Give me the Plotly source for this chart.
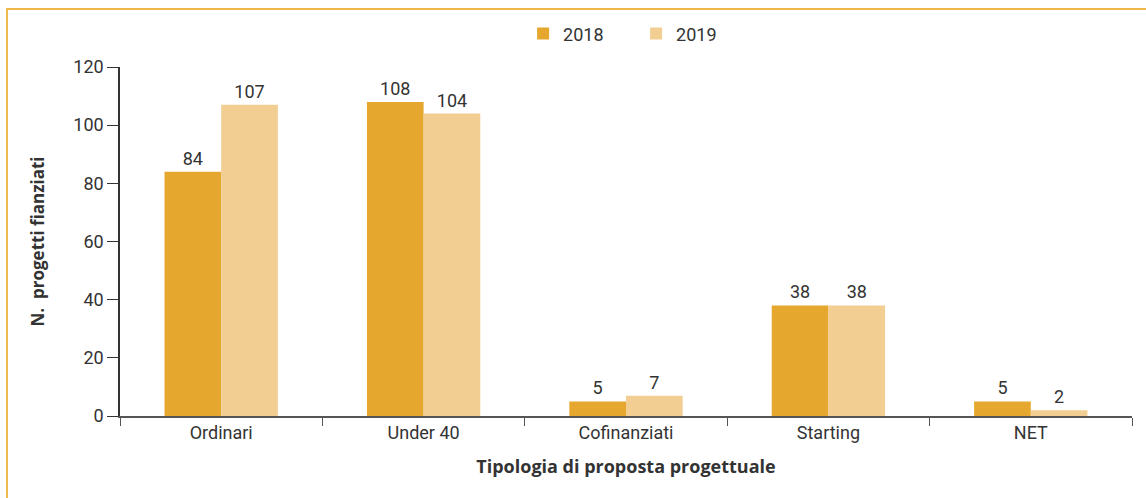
import plotly.graph_objects as go

categories = ["Ordinari", "Under 40", "Cofinanziati", "Starting", "NET"]
values_2018 = [84, 108, 5, 38, 5]
values_2019 = [107, 104, 7, 38, 2]
y_ticks = [0, 20, 40, 60, 80, 100, 120]

FONT = "Roboto, Open Sans, sans-serif"
BOLD_FONT = "Open Sans, sans-serif"
TEXT = "#333333"

fig = go.Figure()
fig.add_trace(go.Bar(
    name="2018", x=categories, y=values_2018,
    marker=dict(color="#E5A72E", line=dict(width=0)),
    text=values_2018, textposition="outside", cliponaxis=False,
    textfont=dict(family=FONT, size=18, color=TEXT),
))
fig.add_trace(go.Bar(
    name="2019", x=categories, y=values_2019,
    marker=dict(color="#F2CE92", line=dict(width=0)),
    text=values_2019, textposition="outside", cliponaxis=False,
    textfont=dict(family=FONT, size=18, color=TEXT),
))

# frame around the chart
fig.add_shape(type="rect", xref="paper", yref="paper",
              x0=-0.1117, x1=1.02, y0=-0.26, y1=1.166,
              line=dict(color="#F0B84B", width=2), layer="below")

fig.update_layout(
    width=1146, height=498,
    margin=dict(l=120, r=14, t=67, b=82),
    paper_bgcolor="white", plot_bgcolor="white",
    barmode="group", bargap=0.44, bargroupgap=0,
    font=dict(family=FONT, size=18, color=TEXT),
    showlegend=True,
    legend=dict(orientation="h", x=0.51, xanchor="center", y=1.095, yanchor="middle",
                font=dict(family=FONT, size=18, color=TEXT),
                entrywidth=68, entrywidthmode="pixels",
                traceorder="normal"),
    xaxis=dict(
        showline=True, linecolor="#555555", linewidth=1.5,
        ticks="outside", tickson="boundaries", ticklen=8, tickcolor="#555555",
        tickfont=dict(family=FONT, size=18, color=TEXT),
        title=dict(text="<b>Tipologia di proposta progettuale</b>",
                   font=dict(family=BOLD_FONT, size=18, color=TEXT),
                   standoff=18),
    ),
    yaxis=dict(
        range=[0, 120], tickvals=y_ticks,
        showline=True, linecolor="#333333", linewidth=1.5,
        ticks="outside", ticklen=11, tickcolor="#333333",
        showgrid=False, zeroline=False,
        tickfont=dict(family=FONT, size=18, color=TEXT),
        title=dict(text="<b>N.  progetti fianziati</b>",
                   font=dict(family=BOLD_FONT, size=17, color=TEXT),
                   standoff=24),
    ),
)

fig.write_html("out.html")
